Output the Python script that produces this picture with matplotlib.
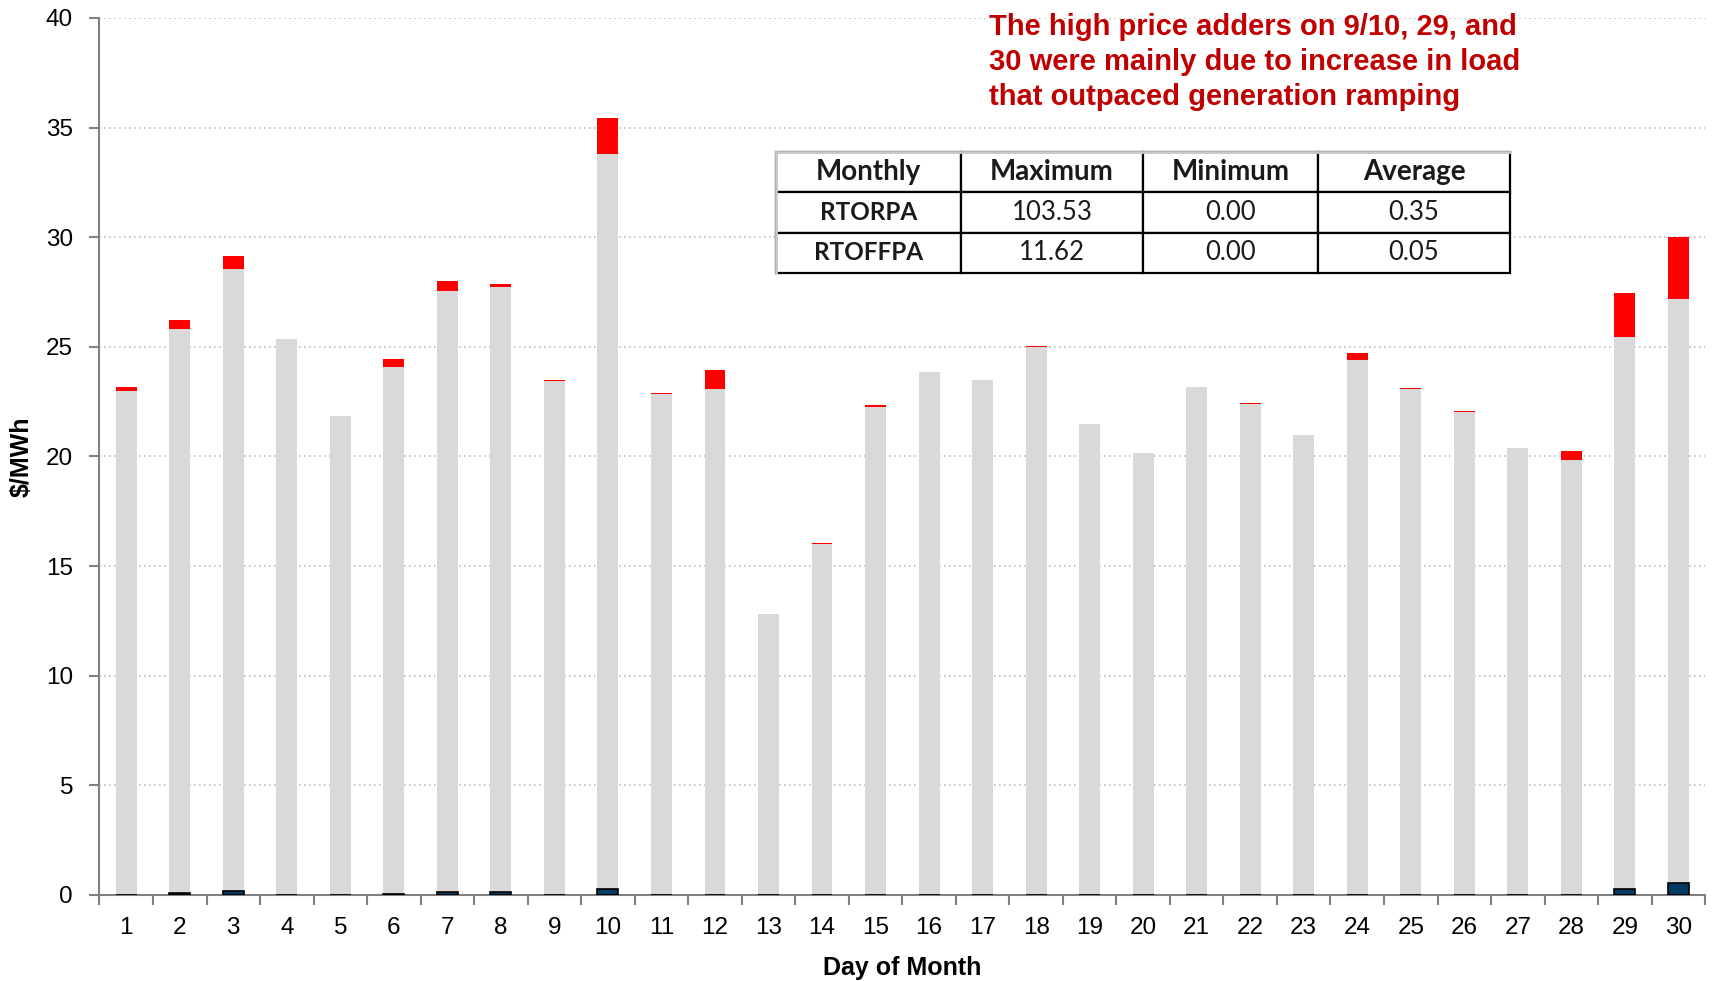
import numpy as np
import matplotlib
matplotlib.use("Agg")
import matplotlib.pyplot as plt

plt.rcParams['font.family'] = ['Liberation Sans', 'DejaVu Sans']

days = list(range(1, 31))
# segments of each stacked bar, $/MWh
rtoffpa = [0.02, 0.10, 0.20, 0.02, 0.00, 0.06, 0.13, 0.13, 0.00, 0.26,
           0.00, 0.02, 0.00, 0.00, 0.02, 0.02, 0.02, 0.02, 0.00, 0.00,
           0.02, 0.02, 0.02, 0.02, 0.02, 0.02, 0.02, 0.02, 0.29, 0.53]
energy = [22.98, 25.71, 28.35, 25.33, 21.84, 24.01, 27.41, 27.58, 23.45, 33.54,
          22.86, 23.06, 12.80, 16.03, 22.24, 23.82, 23.46, 24.98, 21.47, 20.15,
          23.14, 22.38, 20.95, 24.37, 23.07, 22.02, 20.36, 19.84, 25.15, 26.63]
rtorpa = [0.18, 0.42, 0.59, 0.03, 0.02, 0.37, 0.46, 0.17, 0.02, 1.64,
          0.02, 0.87, 0.00, 0.03, 0.10, 0.02, 0.02, 0.02, 0.00, 0.00,
          0.02, 0.02, 0.02, 0.35, 0.02, 0.02, 0.02, 0.40, 2.01, 2.84]

table_cols = ['Monthly', 'Maximum', 'Minimum', 'Average']
table_rows = [['RTORPA', '103.53', '0.00', '0.35'],
              ['RTOFFPA', '11.62', '0.00', '0.05']]

note = ("The high price adders on 9/10, 29, and\n"
        "30 were mainly due to increase in load\n"
        "that outpaced generation ramping")

fig = plt.figure(figsize=(17.12, 9.81), dpi=100)
ax = fig.add_axes([0.0581, 0.0877, 0.9379, 0.894])

x = np.array(days)
w = 0.39
off = np.array(rtoffpa)
en = np.array(energy)
ax.bar(x, off, w, color='#003A63', edgecolor='black', linewidth=1.2, zorder=3)
ax.bar(x, en, w, bottom=off, color='#D9D9D9', linewidth=0, zorder=2)
ax.bar(x, rtorpa, w, bottom=off + en, color='#FF0000', linewidth=0, zorder=2)

ax.set_xlim(0.5, 30.5)
ax.set_ylim(0, 40)
ax.set_yticks(range(0, 41, 5))
ax.set_xticks(x)
ax.set_xticks(np.arange(0.5, 31, 1), minor=True)
ax.tick_params(axis='x', which='major', length=0, pad=16, labelsize=17.5)
ax.tick_params(axis='x', which='minor', length=7, width=1.5, color='#808080')
ax.tick_params(axis='y', length=7, width=1.5, color='#808080', pad=12, labelsize=17.5)

ax.grid(axis='y', linestyle=(0, (1, 2)), color='#BFBFBF', linewidth=1.2)
ax.set_axisbelow(True)
for s in ['top', 'right']:
    ax.spines[s].set_visible(False)
for s in ['left', 'bottom']:
    ax.spines[s].set_color('#808080')
    ax.spines[s].set_linewidth(1.5)

ax.set_xlabel('Day of Month', fontsize=18, fontweight='bold', labelpad=12)
ax.set_ylabel('$/MWh', fontsize=18, fontweight='bold', labelpad=9)

fig.text(0.5777, 0.987, note, ha='left', va='top', color='#C00000',
         fontsize=21, fontweight='bold', linespacing=1.33,
         family=['Liberation Sans Narrow', 'Liberation Sans', 'DejaVu Sans'])

# summary table
tax = fig.add_axes([0.4533, 0.7217, 0.4287, 0.1233])
tax.axis('off')
tbl = tax.table(cellText=table_rows, colLabels=table_cols, cellLoc='center',
                bbox=[0, 0, 1, 1], colWidths=[185, 182, 175, 192])
tbl.auto_set_font_size(False)
for (r, c), cell in tbl.get_celld().items():
    cell.set_edgecolor('black')
    cell.set_linewidth(1.6)
    cell.set_facecolor('white')
    t = cell.get_text()
    t.set_family(['Lato', 'DejaVu Sans'])
    t.set_color('#1a1a1a')
    if r == 0:
        t.set_fontsize(20)
        t.set_fontweight('bold')
    elif c == 0:
        t.set_fontsize(17.5)
        t.set_fontweight('bold')
    else:
        t.set_fontsize(18.5)
# lighter outer top and left border
tax.plot([0, 1], [1, 1], color='#C8C8C8', lw=2, transform=tax.transAxes,
         clip_on=False, zorder=10)
tax.plot([0, 0], [0, 1], color='#C8C8C8', lw=2, transform=tax.transAxes,
         clip_on=False, zorder=10)

fig.savefig('out.png', dpi=100)
